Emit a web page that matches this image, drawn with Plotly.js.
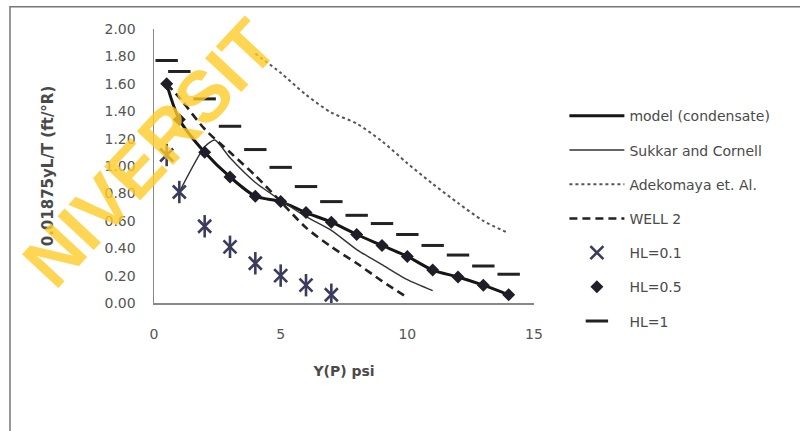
<!DOCTYPE html>
<html>
<head>
<meta charset="utf-8">
<script src="https://cdn.plot.ly/plotly-3.0.1.min.js"></script>
<style>
html,body{margin:0;padding:0;background:#fff;}
#chart{width:800px;height:431px;}
</style>
</head>
<body>
<div id="chart"></div>
<script>
// ---- data ----
var xModel = [0.5,1,2,3,4,5,6,7,8,9,10,11,12,13,14];
var yModel = [1.60,1.34,1.10,0.92,0.78,0.74,0.66,0.59,0.50,0.42,0.34,0.24,0.19,0.13,0.06];

var xSukkar = [1,2,2.4,3,4,5,6,7,8,9,10,11];
var ySukkar = [0.81,1.14,1.19,1.06,0.88,0.75,0.63,0.53,0.39,0.28,0.17,0.09];

var xAdek = [4,5,6,7,8,9,10,11,12,13,14];
var yAdek = [1.82,1.68,1.52,1.39,1.31,1.18,1.02,0.87,0.73,0.60,0.51];

var xWell = [0.5,1,2,3,4,5,6,7,8,9,10];
var yWell = [1.60,1.50,1.27,1.10,0.93,0.74,0.55,0.41,0.29,0.16,0.04];

var xHL01 = [0.5,1,2,3,4,5,6,7];
var yHL01 = [1.08,0.81,0.56,0.41,0.29,0.20,0.13,0.06];

var xHL05 = [0.5,1,2,3,4,5,6,7,8,9,10,11,12,13,14];
var yHL05 = [1.60,1.34,1.10,0.92,0.78,0.74,0.66,0.59,0.50,0.42,0.34,0.24,0.19,0.13,0.06];

var xHL1 = [0.5,1,2,3,4,5,6,7,8,9,10,11,12,13,14];
var yHL1 = [1.77,1.69,1.49,1.29,1.12,0.99,0.85,0.74,0.64,0.58,0.50,0.42,0.35,0.27,0.21];

var xTicks = [0,5,10,15];
var yTicks = [0,0.2,0.4,0.6,0.8,1.0,1.2,1.4,1.6,1.8,2.0];
var yTickText = ['0.00','0.20','0.40','0.60','0.80','1.00','1.20','1.40','1.60','1.80','2.00'];

var starColor = '#3b3b5e';

var traces = [
  {x:xModel, y:yModel, name:'model (condensate)', mode:'lines', legendgroup:'a',
   line:{color:'#151515', width:3, shape:'spline', smoothing:0.8}},
  {x:xSukkar, y:ySukkar, name:'Sukkar and Cornell', mode:'lines', legendgroup:'b',
   line:{color:'#333', width:1.4, shape:'spline', smoothing:0.6}},
  {x:xAdek, y:yAdek, name:'Adekomaya et. Al.', mode:'lines', legendgroup:'c',
   line:{color:'#555', width:2, dash:'dot', shape:'spline', smoothing:0.8}},
  {x:xWell, y:yWell, name:'WELL 2', mode:'lines', legendgroup:'d',
   line:{color:'#222', width:2.6, dash:'8px,5px', shape:'spline', smoothing:0.8}},
  {x:xHL01, y:yHL01, name:'HL=0.1', mode:'markers', legendgroup:'e',
   marker:{symbol:'x-thin-open', size:13, color:starColor, line:{color:starColor, width:2.6}}},
  {x:xHL01, y:yHL01, name:'HL=0.1', mode:'markers', legendgroup:'e', showlegend:false,
   marker:{symbol:'line-ns-open', size:16, color:starColor, line:{color:starColor, width:2.6}}},
  {x:xHL05, y:yHL05, name:'HL=0.5', mode:'markers', legendgroup:'f',
   marker:{symbol:'diamond', size:10, color:'#1e1e28'}},
  {x:xHL1, y:yHL1, name:'HL=1', mode:'markers', legendgroup:'g',
   marker:{symbol:'line-ew-open', size:16, color:'#222', line:{color:'#222', width:3}}}
];

var fontFam = '"DejaVu Sans", sans-serif';

var layout = {
  width:800, height:431,
  margin:{l:154, r:266, t:29, b:128},
  paper_bgcolor:'#fff', plot_bgcolor:'rgba(0,0,0,0)',
  font:{family:fontFam, color:'#555', size:14},
  showlegend:true,
  legend:{x:1.08, y:0.74, xanchor:'left', yanchor:'top', tracegroupgap:13,
          itemwidth:55, font:{size:14, color:'#4a4a4a', family:fontFam}, bgcolor:'rgba(0,0,0,0)'},
  xaxis:{range:[0,15], tickvals:xTicks, ticktext:xTicks.map(String), showgrid:false, zeroline:false,
         showline:true, linecolor:'#888', linewidth:1.5, ticks:'outside', ticklen:18, tickcolor:'rgba(0,0,0,0)',
         tickfont:{size:14, color:'#555'}, fixedrange:true,
         title:{text:'Y(P) psi', font:{size:14, color:'#4a4a4a', weight:'bold'}, standoff:25}},
  yaxis:{range:[0,2], tickvals:yTicks, ticktext:yTickText, showgrid:false, zeroline:false,
         showline:true, linecolor:'#888', linewidth:1.5, ticks:'outside', ticklen:14, tickcolor:'rgba(0,0,0,0)',
         tickfont:{size:14, color:'#555'}, fixedrange:true,
         title:{text:'0.01875yL/T (ft/°R)', font:{size:15, color:'#4a4a4a', weight:'bold'}, standoff:47}},
  shapes:[
    {type:'rect', xref:'paper', yref:'paper', x0:-0.379, x1:1.75, y0:-0.6, y1:1.081,
     line:{color:'#777', width:1.5}, fillcolor:'rgba(0,0,0,0)', layer:'below'}
  ],
  annotations:[
    {text:'NIVERSIT', xref:'paper', yref:'paper', x:(150-154)/380, y:(303-153)/274,
     xanchor:'center', yanchor:'middle',
     showarrow:false, textangle:-47,
     font:{size:72, color:'rgba(255,204,40,0.8)', family:'"Liberation Sans", sans-serif', weight:'bold'}}
  ]
};

Plotly.newPlot('chart', traces, layout, {displayModeBar:false, staticPlot:true});
</script>
</body>
</html>
